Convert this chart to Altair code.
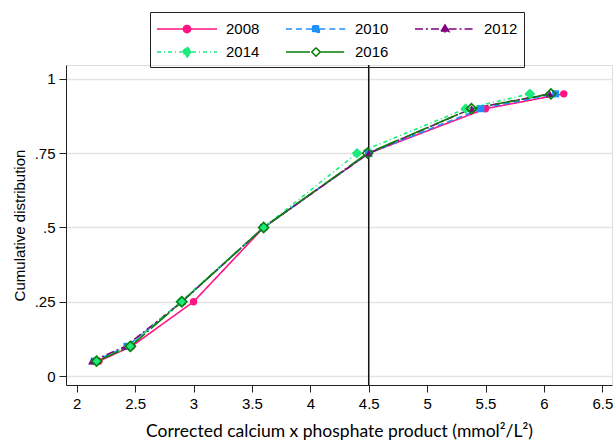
import altair as alt
import pandas as pd

years = ["2008", "2010", "2012", "2014", "2016"]
cum_prob = [0.05, 0.10, 0.25, 0.50, 0.75, 0.90, 0.95]
x_2008 = [2.19, 2.47, 3.00, 3.60, 4.50, 5.50, 6.17]
x_2010 = [2.15, 2.43, 2.90, 3.60, 4.50, 5.46, 6.10]
x_2012 = [2.13, 2.42, 2.90, 3.60, 4.50, 5.38, 6.05]
x_2014 = [2.17, 2.45, 2.89, 3.60, 4.40, 5.33, 5.88]
x_2016 = [2.17, 2.46, 2.90, 3.60, 4.49, 5.38, 6.06]
x_ticks = [2, 2.5, 3, 3.5, 4, 4.5, 5, 5.5, 6, 6.5]
y_ticks = [0, 0.25, 0.5, 0.75, 1]
ref_x = [4.5]

colors = ["#ff1483", "#1e90ff", "#800080", "#1aeb7a", "#0a7d0a"]
fills = ["#ff1483", "#1e90ff", "#800080", "#1aeb7a", "white"]
dashes = [[1, 0], [6, 4], [8, 3, 2, 3], [4, 3, 1, 3], [24, 3, 2, 3]]
# legend symbols: marker + line, in a box from -3 to 3 (size 400 -> 60 px wide)
legend_paths = [
    "M-0.36,0A0.36,0.36 0 1,0 0.36,0A0.36,0.36 0 1,0 -0.36,0ZM-3,0L-0.36,0M0.36,0L3,0",
    "M-0.33,-0.33L0.33,-0.33L0.33,0.33L-0.33,0.33ZM-3,0L-0.33,0M0.33,0L3,0",
    "M0,-0.4L0.4,0.27L-0.4,0.27ZM-3,0L-0.36,0M0.36,0L3,0",
    "M0,-0.5L0.5,0L0,0.5L-0.5,0ZM-3,0L-0.5,0M0.5,0L3,0",
    "M0,-0.42L0.42,0L0,0.42L-0.42,0ZM-3,0L-0.42,0M0.42,0L3,0",
]
point_style = [
    dict(shape="circle", size=55, filled=True),
    dict(shape="square", size=50, filled=True),
    dict(shape="triangle-up", size=60, filled=True),
    dict(shape="diamond", size=115, filled=True),
    dict(shape="diamond", size=100, filled=False, strokeWidth=1.6),
]

series = [x_2008, x_2010, x_2012, x_2014, x_2016]
rows = []
for yr, xs in zip(years, series):
    for q, xv in zip(cum_prob, xs):
        rows.append({"year": yr, "q": q, "x": xv})
df = pd.DataFrame(rows)

FONT = "Arial"
leg = alt.Legend(
    title=None, orient="none", legendX=84, legendY=-53, columns=3, direction="horizontal",
    symbolSize=400, symbolStrokeWidth=1.6, labelFont=FONT, labelFontSize=15,
    labelColor="black", strokeColor="#222", padding=6, columnPadding=22,
    symbolOffset=20, labelOffset=28, rowPadding=4, symbolOpacity=1,
)

xs_scale = alt.Scale(domain=[1.908, 6.583], nice=False, zero=False)
ys_scale = alt.Scale(domain=[-0.0303, 1.0471], nice=False, zero=False)
xenc = alt.X("x:Q", scale=xs_scale, axis=alt.Axis(
    values=x_ticks, grid=False, title="Corrected calcium x phosphate product (mmol²/L²)",
    titleFont="Lato", titleFontSize=17.5, titleFontWeight="normal", titleColor="black",
    labelFont=FONT, labelFontSize=15, labelColor="black", tickSize=7, labelPadding=4,
    domainColor="#222", tickColor="#222", titlePadding=11, labelFlush=False, format="~g"))
yenc = alt.Y("q:Q", scale=ys_scale, axis=alt.Axis(
    values=y_ticks, grid=True, gridColor="#e4e4e4", gridWidth=1.5,
    title="Cumulative distribution", titleFont=FONT, titleFontSize=15,
    titleFontWeight="normal", titleColor="black", labelFont=FONT, labelFontSize=15,
    labelColor="black", tickSize=7, labelPadding=4, domainColor="#222", tickColor="#222",
    titlePadding=7, labelFlush=False,
    labelExpr="datum.value == 0 ? '0' : datum.value == 1 ? '1' : replace(format(datum.value, '.2~f'), '0.', '.')"))

color_enc = alt.Color("year:N", scale=alt.Scale(domain=years, range=colors), legend=leg)
dash_enc = alt.StrokeDash("year:N", scale=alt.Scale(domain=years, range=dashes), legend=leg)

base = alt.Chart(df)

legend_layer = base.transform_filter("datum.q < 0").mark_point(filled=False, opacity=1).encode(
    x=xenc, y=yenc, color=color_enc, strokeDash=dash_enc,
    fill=alt.Fill("year:N", scale=alt.Scale(domain=years, range=fills), legend=leg),
    shape=alt.Shape("year:N", scale=alt.Scale(domain=years, range=legend_paths), legend=leg),
)

lines = base.mark_line(strokeWidth=1.6).encode(
    x=xenc, y=yenc, color=color_enc, strokeDash=dash_enc, order="q:Q")

rule = alt.Chart(pd.DataFrame({"x": ref_x})).mark_rule(color="#111", strokeWidth=1.5).encode(
    x=alt.X("x:Q", scale=xs_scale))

point_layers = []
for yr, col, st in zip(years, colors, point_style):
    point_layers.append(
        base.transform_filter(f"datum.year == '{yr}'").mark_point(opacity=1, color=col, **st).encode(
            x=xenc, y=yenc)
    )

chart = alt.layer(legend_layer, rule, lines, *point_layers).properties(
    width=546, height=320,
    autosize=alt.AutoSizeParams(type="none"),
    padding={"left": 66, "top": 65, "right": 2, "bottom": 58},
).configure_view(stroke=None).configure(background="white")

chart.save("out.html", embed_options={"renderer": "svg", "actions": False})
